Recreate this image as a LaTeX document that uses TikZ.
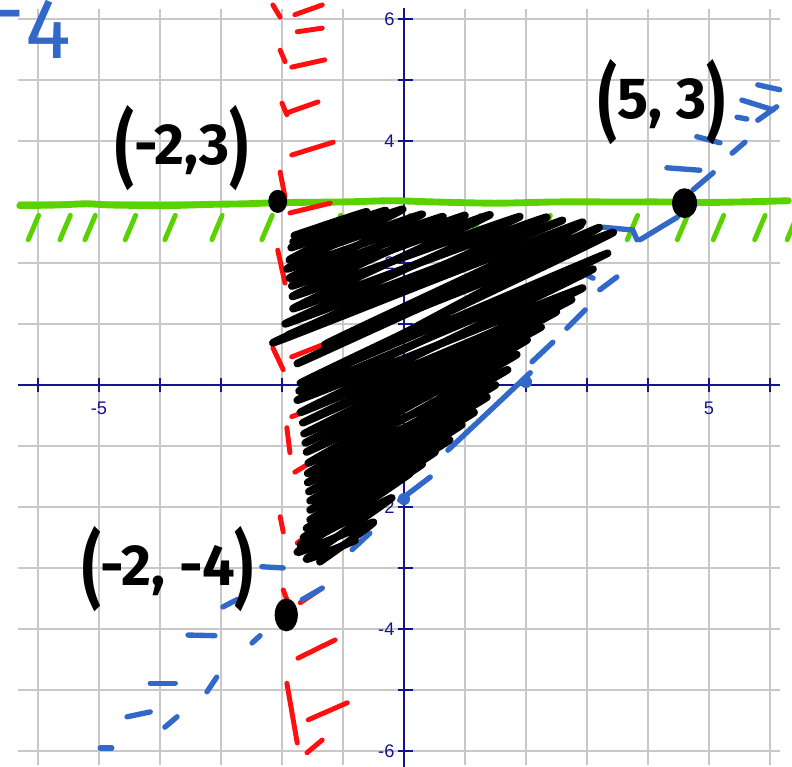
\documentclass[tikz,border=0pt]{standalone}
\usepackage{fontspec}
\usepackage{graphicx}
\usepackage{xcolor}
\usepackage{tikz}
\usetikzlibrary{shapes.geometric}

\newfontfamily\tickfont{Liberation Sans}
\newfontfamily\handfont{Fira Sans}

\definecolor{gridgray}{RGB}{200,200,200}
\definecolor{axisnavy}{RGB}{20,20,140}
\definecolor{markgreen}{RGB}{90,210,0}
\definecolor{markred}{RGB}{255,15,15}
\definecolor{markblue}{RGB}{50,105,200}

\newcommand{\hp}[1]{\raisebox{-0.22em}{\scalebox{1}[1.45]{#1}}}

\begin{document}
\begin{tikzpicture}[
  gridline/.style={draw=gridgray, line width=0.9pt},
  axisline/.style={draw=axisnavy, line width=0.9pt},
  ticklabel/.style={text=axisnavy, font=\tickfont\fontsize{8.5}{9}\selectfont, inner sep=0pt},
  greenbound/.style={draw=markgreen, line width=3.2pt, line cap=round},
  greenhatch/.style={draw=markgreen, line width=2.3pt, line cap=round},
  redmark/.style={draw=markred, line width=2.3pt, line cap=round},
  bluemark/.style={draw=markblue, line width=2.5pt, line cap=round},
  scribble/.style={draw=black, line width=3.5pt, line cap=round, line join=round},
  dot/.style={ellipse, fill=black, inner sep=0pt},
  handlabel/.style={font=\handfont\bfseries\fontsize{27}{27}\selectfont, inner sep=0pt}
]
\useasboundingbox (-6.623,-6.262) rectangle (6.361,6.311);

\foreach \x in {-6,...,6} \draw[gridline] (\x,-6.23) -- (\x,6.16);
\foreach \y in {-6,...,6} \draw[gridline] (-6.33,\y) -- (6.16,\y);
\draw[axisline] (-6.33,0) -- (6.16,0);
\draw[axisline] (0,-6.27) -- (0,6.18);
\foreach \x in {-6,...,6} \draw[axisline] (\x,-0.12) -- (\x,0.12);
\foreach \y in {-6,...,6} \draw[axisline] (-0.1,\y) -- (0.15,\y);
\node[ticklabel] (xlabm5) at (-5,-0.39) {-5};
\node[ticklabel] (xlab5) at (5,-0.39) {5};
\foreach \y in {-6,-4,-2,2,4,6}
  \node[ticklabel, anchor=east] (ylab\y) at (-0.15,\y) {\y};

% y <= 3
\draw[greenbound] plot[smooth] coordinates {(-6.3,2.94) (-5.7,2.95) (-5.2,2.97) (-4.8,2.95) (-3.9,2.94) (-3.2,2.96) (-2.6,2.97) (-2.0,2.99) (-1.0,3.0) (-0.2,3.02) (0.5,3.0) (1.5,2.98) (2.5,3.0) (3.5,3.0) (4.3,3.0) (4.8,2.99) (5.5,3.0) (6.3,3.02)};
\foreach \u in {-6.16,-5.64,-5.23,-4.57,-3.92,-3.15,-2.33,-1.21,-0.07,1.08,2.23,3.66,4.48,5.07,5.75,6.28}
  \draw[greenhatch] (\u,2.38) -- ++(0.17,0.4);

% x >= -2
\foreach \xa/\ya/\xb/\yb in {-2.15/6.23/-2.03/6.03, -2.03/5.49/-1.95/5.30, -2.00/4.62/-1.92/4.43,
  -2.03/3.49/-1.95/3.08, -2.07/2.21/-1.95/1.67, -2.15/0.61/-1.98/0.25, -1.92/-0.70/-1.87/-1.11,
  -2.03/-2.16/-1.98/-2.41, -1.98/-3.36/-1.92/-3.52, -1.92/-4.89/-1.75/-5.87}
  \draw[redmark] (\xa,\ya) -- (\xb,\yb);
\foreach \xa/\ya/\xb/\yb in {-1.79/6.07/-1.34/6.23, -1.75/5.79/-1.34/5.85, -1.84/5.21/-1.30/5.33,
  -1.92/4.46/-1.41/4.64, -1.84/3.77/-1.16/3.98, -1.87/2.82/-1.21/2.98, -1.84/1.69/-1.33/1.89,
  -1.84/0.46/-1.33/0.66, -1.84/-0.52/-1.54/-0.41, -1.79/-1.43/-1.59/-1.31, -1.75/-2.59/-1.38/-2.33,
  -1.70/-3.57/-1.34/-3.33, -1.74/-4.48/-1.13/-4.18, -1.57/-5.49/-0.93/-5.21, -1.59/-6.03/-1.34/-5.82}
  \draw[redmark] (\xa,\ya) -- (\xb,\yb);

% y >= x - 2
\foreach \xa/\ya/\xb/\yb in {-3.92/-5.61/-3.72/-5.44, -3.23/-5.03/-3.07/-4.79, -2.49/-4.23/-2.36/-4.11,
  -1.67/-3.52/-1.34/-3.33, -0.85/-2.70/-0.56/-2.43, -0.07/-1.89/0.43/-1.51, 0.72/-1.07/2.07/0.20,
  2.10/0.38/2.44/0.70, 2.67/0.93/2.97/1.23, 3.21/1.56/3.49/1.77, 3.87/2.38/4.48/2.75,
  5.07/3.48/4.74/3.20, 5.38/3.80/5.59/3.98, 5.80/4.34/6.11/4.56}
  \draw[bluemark] (\xa,\ya) -- (\xb,\yb);
\foreach \xa/\ya/\xb/\yb in {-4.98/-5.95/-4.79/-5.95, -4.54/-5.44/-4.16/-5.36, -4.16/-4.89/-3.75/-4.89,
  -3.54/-4.10/-3.10/-4.11, -2.97/-3.64/-2.74/-3.52, -2.33/-2.98/-1.98/-3.00, 0.21/-0.28/0.43/-0.20,
  0.80/0.13/1.13/0.20, 1.20/0.62/1.46/0.69, 1.82/1.23/2.23/1.28, 3.00/1.80/3.10/1.75,
  4.31/3.56/4.85/3.52, 4.80/4.07/5.18/3.97, 5.46/4.39/5.62/4.36, 5.54/4.67/6.05/4.51, 5.80/4.92/6.16/4.84}
  \draw[bluemark] (\xa,\ya) -- (\xb,\yb);
\draw[bluemark] (3.21,2.59) -- (3.75,2.54) -- (3.82,2.38);
\fill[markblue] (0,-1.87) circle (0.1);
\fill[markblue] (2.0,0.05) circle (0.1);

% shading
\draw[scribble] plot[smooth, tension=0.3] coordinates {
  (-1.80,2.45) (-0.61,2.84) (-1.85,2.25) (-0.02,2.88) (-1.92,1.90) (0.64,2.76)
  (-1.84,1.62) (1.41,2.79) (-1.82,1.25) (2.34,2.75) (-2.15,0.69) (2.93,2.67)
  (-1.30,0.66) (3.43,2.50) (-1.70,0.03) (3.34,2.16) (-1.75,-0.25) (2.93,1.59)
  (-1.66,-0.62) (2.50,1.20) (-1.62,-0.95) (2.02,0.74) (-1.57,-1.28) (1.70,0.25)
  (-1.58,-1.60) (1.36,-0.20) (-1.54,-1.90) (0.95,-0.65) (-1.54,-2.21) (0.51,-1.10)
  (-1.65,-2.50) (0.10,-1.45) (-1.75,-2.74) (-0.50,-2.25) (-1.38,-2.90)};
\draw[scribble] plot[smooth, tension=0.3] coordinates {
  (-1.82,2.35) (-0.30,2.86) (-1.88,2.05) (0.30,2.80) (-1.88,1.75) (1.00,2.78)
  (-1.83,1.45) (1.90,2.76) (-1.95,1.00) (2.60,2.70) (-1.90,0.82) (2.90,2.62)
  (-1.75,0.35) (3.20,2.58)
  (-1.72,-0.10) (3.10,1.90) (-1.70,-0.45) (2.75,1.40) (-1.64,-0.80) (2.25,0.95)
  (-1.60,-1.10) (1.85,0.50) (-1.58,-1.45) (1.50,0.00) (-1.56,-1.75) (1.15,-0.45)
  (-1.54,-2.05) (0.75,-0.90) (-1.60,-2.35) (0.30,-1.30) (-1.70,-2.62) (-0.20,-1.85)
  (-1.60,-2.85) (-0.80,-2.55)};

\node[dot, minimum width=0.31cm, minimum height=0.38cm] (ptA) at (-2.07,3.01) {};
\node[dot, minimum width=0.41cm, minimum height=0.49cm] (ptB) at (4.60,2.98) {};
\node[dot, minimum width=0.38cm, minimum height=0.54cm] (ptC) at (-1.93,-3.77) {};

\node[handlabel] (labA) at (-3.64,3.89) {\hp{(}-2,3\hp{)}};
\node[handlabel] (labB) at (4.23,4.64) {\hp{(}5, 3\hp{)}};
\node[handlabel] (labC) at (-3.87,-3.02) {\hp{(}-2, -4\hp{)}};
\node[handlabel, text=markblue, anchor=base west, font=\handfont\fontsize{40}{40}\selectfont] (ineq) at (-6.78,5.36) {\raisebox{0.2em}{-}4};
\end{tikzpicture}
\end{document}
